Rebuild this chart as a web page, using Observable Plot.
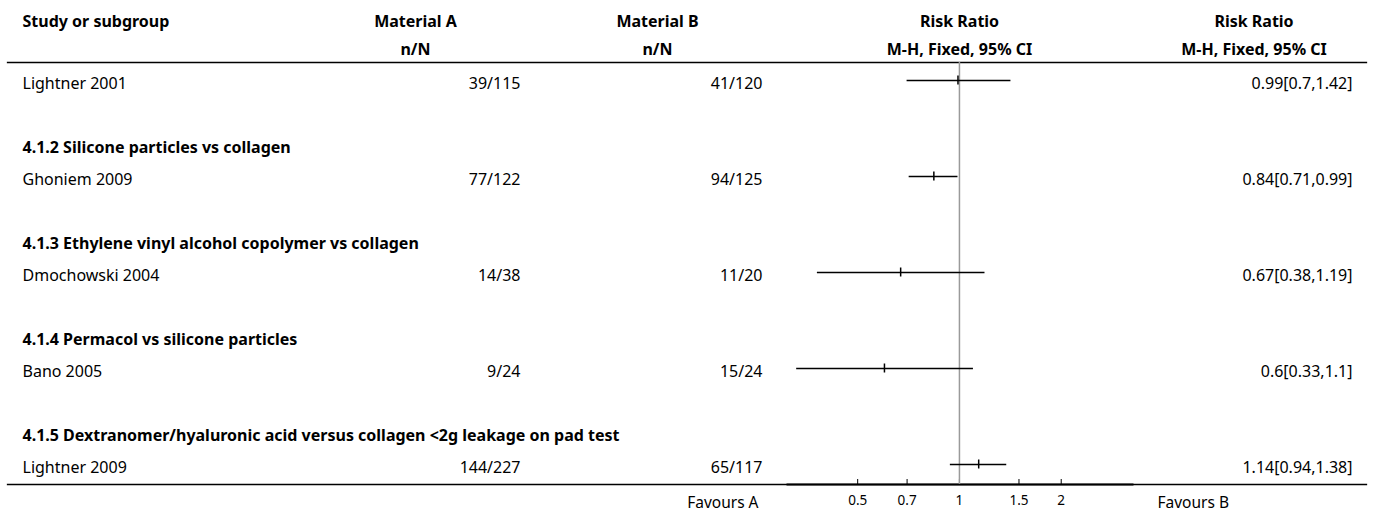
<!DOCTYPE html>
<html>
<head>
<meta charset="utf-8">
<script src="https://cdn.jsdelivr.net/npm/d3@7"></script>
<script src="https://cdn.jsdelivr.net/npm/@observablehq/plot@0.6"></script>
<style>
  html, body { margin: 0; padding: 0; background: #fff; }
  #chart svg { display: block; }
</style>
</head>
<body>
<div id="chart"></div>
<script>
// ---------------- data ----------------
const studies = ["Lightner 2001", "Ghoniem 2009", "Dmochowski 2004", "Bano 2005", "Lightner 2009"];
const subgroups = [
  "4.1.2 Silicone particles vs collagen",
  "4.1.3 Ethylene vinyl alcohol copolymer vs collagen",
  "4.1.4 Permacol vs silicone particles",
  "4.1.5 Dextranomer/hyaluronic acid versus collagen <2g leakage on pad test"
];
const eventsA = [39, 77, 14, 9, 144];
const totalA  = [115, 122, 38, 24, 227];
const eventsB = [41, 94, 11, 15, 65];
const totalB  = [120, 125, 20, 24, 117];
const riskRatio = [0.99, 0.84, 0.67, 0.6, 1.14];
const ciLow     = [0.7, 0.71, 0.38, 0.33, 0.94];
const ciHigh    = [1.42, 0.99, 1.19, 1.1, 1.38];
const xTicks = [0.5, 0.7, 1, 1.5, 2];
const xDomain = [0.31, 3.25];
const headerLine1 = ["Study or subgroup", "Material A", "Material B", "Risk Ratio", "Risk Ratio"];
const headerLine2 = ["", "n/N", "n/N", "M-H, Fixed, 95% CI", "M-H, Fixed, 95% CI"];
const favours = ["Favours A", "Favours B"];

// ---------------- layout ----------------
const W = 1373, H = 513;
const mTop = 62, mBottom = 29, mLeft = 7, mRight = 7;
const xRange = [787, 1132];
const rowCount = 13;
const rowH = 32;
const row0 = 79.5;
const FONT = "'Noto Sans', sans-serif";
const FS = 16;
const textDy = 3.5;

const studyRows = studies.map((s, i) => ({
  row: 3 * i,
  study: s,
  a: `${eventsA[i]}/${totalA[i]}`,
  b: `${eventsB[i]}/${totalB[i]}`,
  rr: riskRatio[i], lo: ciLow[i], hi: ciHigh[i],
  res: `${riskRatio[i]}[${ciLow[i]},${ciHigh[i]}]`
}));
const subRows = subgroups.map((g, i) => ({row: 3 * i + 2, label: g}));

// column positions (pixel) and header anchors
const colStudy = 22, colA = 520, colB = 762, colRes = 1352;
const headCenters = [null, 415, 657, 959, 1253.5];

function rowText(data, text, xPx, anchor, extra = {}) {
  return Plot.text(data, {
    y: "row", text, frameAnchor: "left", dx: xPx - mLeft, dy: textDy,
    textAnchor: anchor, lineAnchor: "middle", fontSize: FS, fill: "#000", ...extra
  });
}

const headerMarks = [];
[[headerLine1, 21 - mTop], [headerLine2, 49.5 - mTop]].forEach(([lines, dy]) => {
  lines.forEach((t, i) => {
    if (!t) return;
    const isFirst = i === 0;
    headerMarks.push(Plot.text([t], {
      text: d => d, frameAnchor: "top-left", lineAnchor: "middle",
      dx: (isFirst ? colStudy : headCenters[i]) - mLeft, dy,
      textAnchor: isFirst ? "start" : "middle",
      fontSize: FS, fontWeight: "bold", fill: "#000"
    }));
  });
});

const chart = Plot.plot({
  width: W, height: H,
  marginTop: mTop, marginBottom: mBottom, marginLeft: mLeft, marginRight: mRight,
  style: {fontFamily: FONT, background: "#fff", color: "#000"},
  x: {type: "log", domain: xDomain, range: xRange, axis: null},
  y: {type: "band", domain: d3.range(rowCount), range: [row0 - rowH / 2, row0 + (rowCount - 0.5) * rowH], padding: 0, axis: null},
  marks: [
    // header and bottom rules
    Plot.frame({anchor: "top", stroke: "#000", strokeWidth: 1.3}),
    Plot.frame({anchor: "bottom", stroke: "#000", strokeWidth: 1.3}),
    // axis line
    Plot.frame({anchor: "bottom", stroke: "#000", strokeWidth: 2,
      insetLeft: xRange[0] - mLeft, insetRight: W - mRight - xRange[1]}),
    // axis ticks
    Plot.ruleX(xTicks, {x: d => d, stroke: "#000", strokeWidth: 1, insetTop: (H - mBottom - mTop) - 5}),
    Plot.text(xTicks, {x: d => d, text: d => String(d), frameAnchor: "bottom", lineAnchor: "middle", dy: 16, fontSize: 13.5, fill: "#000"}),
    // line of no effect
    Plot.ruleX([1], {x: d => d, stroke: "#9a9a9a", strokeWidth: 1.5}),
    // confidence intervals and estimates
    Plot.ruleY(studyRows, {y: "row", x1: "lo", x2: "hi", stroke: "#000", strokeWidth: 1.5}),
    Plot.tickX(studyRows, {x: "rr", y: "row", stroke: "#000", strokeWidth: 1.5, insetTop: 11.5, insetBottom: 11.5}),
    // table text
    rowText(studyRows, "study", colStudy, "start"),
    rowText(studyRows, "a", colA, "end"),
    rowText(studyRows, "b", colB, "end"),
    rowText(studyRows, "res", colRes, "end"),
    rowText(subRows, "label", colStudy, "start", {fontWeight: "bold"}),
    ...headerMarks,
    // favours labels
    Plot.text([favours[0]], {text: d => d, frameAnchor: "bottom-left", lineAnchor: "middle", dx: 758 - mLeft, dy: 19, textAnchor: "end", fontSize: 15.5, fill: "#000"}),
    Plot.text([favours[1]], {text: d => d, frameAnchor: "bottom-left", lineAnchor: "middle", dx: 1157 - mLeft, dy: 19, textAnchor: "start", fontSize: 15.5, fill: "#000"})
  ]
});
document.getElementById("chart").appendChild(chart);
</script>
</body>
</html>
